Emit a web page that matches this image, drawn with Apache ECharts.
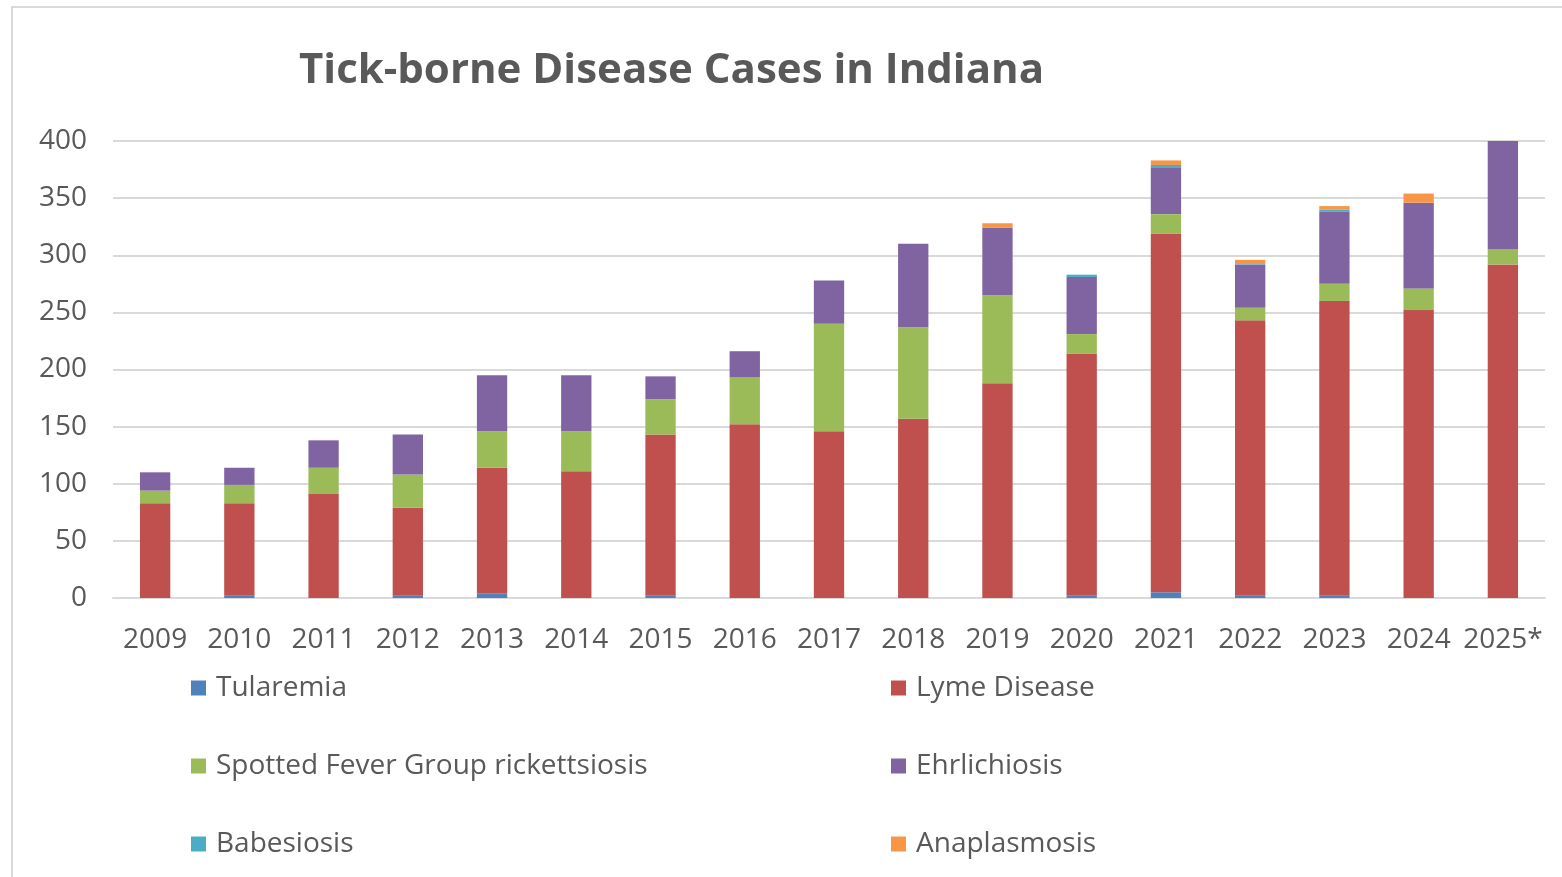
<!DOCTYPE html>
<html>
<head>
<meta charset="utf-8">
<script src="https://cdn.jsdelivr.net/npm/echarts@6/dist/echarts.min.js"></script>
<style>
html,body{margin:0;padding:0;background:#fff;}
#c{width:1562px;height:877px;}
</style>
</head>
<body>
<div id="c"></div>
<script>
const categories = ['2009','2010','2011','2012','2013','2014','2015','2016','2017','2018','2019','2020','2021','2022','2023','2024','2025*'];
const tularemia   = [0, 2, 0, 2, 4, 0, 2, 0, 0, 0, 0, 2, 5, 2, 2, 0, 0];
const lyme        = [83, 81, 91, 77, 110, 111, 141, 152, 146, 157, 188, 212, 314, 241, 258, 252, 292];
const spotted     = [11, 16, 23, 29, 32, 35, 31, 41, 94, 80, 77, 17, 17, 11, 15, 19, 13];
const ehrlichiosis= [16, 15, 24, 35, 49, 49, 20, 23, 38, 73, 59, 50, 41, 38, 63, 75, 95];
const babesiosis  = [0, 0, 0, 0, 0, 0, 0, 0, 0, 0, 0, 2, 2, 1, 2, 0, 0];
const anaplasmosis= [0, 0, 0, 0, 0, 0, 0, 0, 0, 0, 4, 0, 4, 3, 3, 8, 0];
const yTicks = [0, 50, 100, 150, 200, 250, 300, 350, 400];

const seriesDefs = [
  {name:'Tularemia', data:tularemia, color:'#4F81BD'},
  {name:'Lyme Disease', data:lyme, color:'#C0504D'},
  {name:'Spotted Fever Group rickettsiosis', data:spotted, color:'#9BBB59'},
  {name:'Ehrlichiosis', data:ehrlichiosis, color:'#8064A2'},
  {name:'Babesiosis', data:babesiosis, color:'#4BACC6'},
  {name:'Anaplasmosis', data:anaplasmosis, color:'#F79646'}
];
const legendPos = [
  {left:186, top:669}, {left:886, top:669},
  {left:186, top:747}, {left:886, top:747},
  {left:186, top:825}, {left:886, top:825}
];
const font = '"Open Sans", "Noto Sans", sans-serif';
const chart = echarts.init(document.getElementById('c'));
chart.setOption({
  animation:false,
  backgroundColor:'#fff',
  graphic:[{type:'rect', shape:{x:12, y:7, width:1600, height:900}, style:{fill:'none', stroke:'#d9d9d9', lineWidth:2}, silent:true}],
  title:{text:'Tick-borne Disease Cases in Indiana', left:294, top:45,
    textStyle:{fontFamily:font, fontSize:42, fontWeight:'bold', color:'#595959'}},
  legend: seriesDefs.map((s,i)=>({
    data:[s.name], left:legendPos[i].left, top:legendPos[i].top, itemWidth:15, itemHeight:15, icon:'rect',
    textStyle:{fontFamily:font, fontSize:28, color:'#595959', padding:[0,0,0,5]}, selectedMode:false
  })),
  grid:{left:113, right:17, top:141, bottom:279, containLabel:false},
  xAxis:{type:'category', data:categories,
    axisLine:{lineStyle:{color:'#d9d9d9', width:2}}, axisTick:{show:false},
    axisLabel:{fontFamily:font, fontSize:28, color:'#595959', margin:28, interval:0}},
  yAxis:{type:'value', min:yTicks[0], max:yTicks[yTicks.length-1], interval:50,
    axisLine:{show:false}, axisTick:{show:false},
    splitLine:{lineStyle:{color:'#d9d9d9', width:2}},
    axisLabel:{fontFamily:font, fontSize:28, color:'#595959', margin:26}},
  series: seriesDefs.map(s=>({
    name:s.name, type:'bar', stack:'total', data:s.data, barWidth:'36%',
    itemStyle:{color:s.color}
  }))
});
</script>
</body>
</html>
